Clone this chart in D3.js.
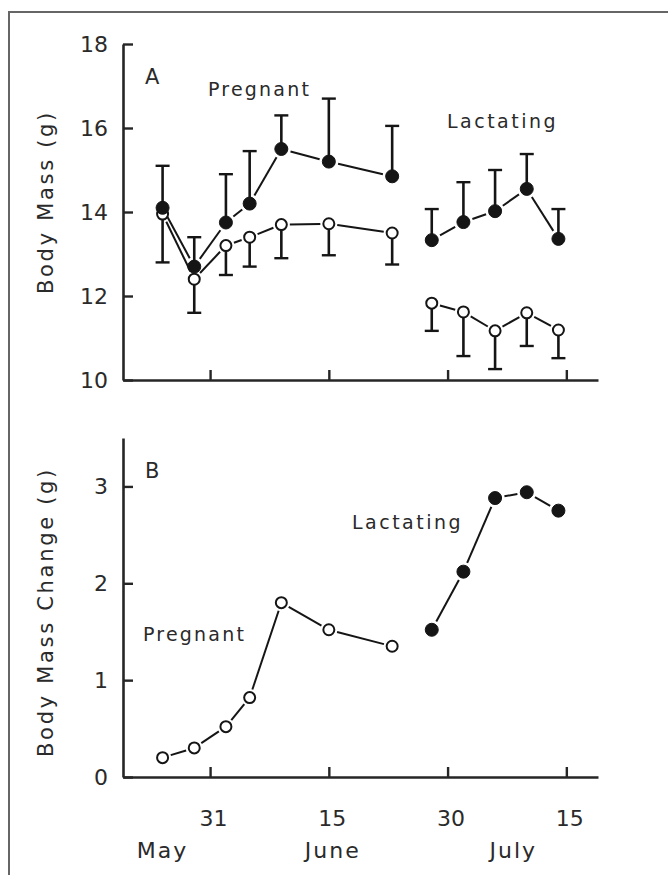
<!DOCTYPE html>
<html>
<head>
<meta charset="utf-8">
<script src="https://cdn.jsdelivr.net/npm/d3@7"></script>
<style>
  html, body { margin: 0; padding: 0; background: #fff; }
  svg { display: block; }
  text { font-family: "DejaVu Sans", sans-serif; fill: #2a2a2a; }
</style>
</head>
<body>
<svg id="chart" width="668" height="875"></svg>
<script>
// Sampling dates (day of year counted from 1 May = day 1)
const pregDays = [25, 29, 33, 36, 40, 46, 54];
const lactDays = [59, 63, 67, 71, 75];

// Panel A: body mass (g), reproductive females (filled) with upper SE
const pregMass    = [14.1, 12.7, 13.75, 14.2, 15.5, 15.2, 14.85];
const pregMassSE  = [1.0, 0.7, 1.15, 1.25, 0.8, 1.5, 1.2];
const lactMass    = [13.33, 13.76, 14.02, 14.55, 13.36];
const lactMassSE  = [0.74, 0.95, 0.98, 0.83, 0.71];

// Panel A: body mass (g), non-reproductive females (open) with lower SE
const pregCtrl    = [13.95, 12.4, 13.2, 13.4, 13.7, 13.72, 13.5];
const pregCtrlSE  = [1.15, 0.8, 0.7, 0.7, 0.8, 0.75, 0.75];
const lactCtrl    = [11.83, 11.62, 11.17, 11.6, 11.19];
const lactCtrlSE  = [0.66, 1.05, 0.91, 0.79, 0.67];

// Panel B: body mass change (g)
const pregChange  = [0.2, 0.3, 0.52, 0.82, 1.8, 1.52, 1.35];
const lactChange  = [1.52, 2.12, 2.88, 2.94, 2.75];

// Axis ticks
const massTicks   = [10, 12, 14, 16, 18];
const changeTicks = [0, 1, 2, 3];
const dateTicks   = [31, 46, 61, 76];
const dateLabels  = ["31", "15", "30", "15"];
const months      = ["May", "June", "July"];
const monthDays   = [25, 46.5, 69.3];

const svg = d3.select("#chart");
const ink = "#151515";
const axisInk = "#262626";

// page frame
svg.append("path")
  .attr("d", "M9,875 L9,12 L668,12")
  .attr("fill", "none").attr("stroke", "#666").attr("stroke-width", 2);

const x = d3.scaleLinear().domain([20, 80]).range([123, 598]);
const yA = d3.scaleLinear().domain([10, 18]).range([380, 44]);
const yB = d3.scaleLinear().domain([0, 3.5]).range([777, 438]);

function styleAxis(g) {
  g.selectAll("path.domain").attr("stroke", axisInk).attr("stroke-width", 2.6);
  g.selectAll(".tick line").attr("stroke", axisInk).attr("stroke-width", 2.4);
  g.selectAll(".tick text")
    .attr("font-family", "DejaVu Sans, sans-serif")
    .attr("font-size", 22).attr("fill", "#2a2a2a");
}

// ---- axes ----
function drawAxes(y, ticks, title, titleY, showDates) {
  const gy = svg.append("g").attr("transform", `translate(${x.range()[0]},0)`)
    .call(d3.axisLeft(y).tickValues(ticks).tickFormat(d3.format("d"))
      .tickSizeInner(-10).tickSizeOuter(0).tickPadding(15));
  styleAxis(gy);
  gy.selectAll(".tick text").attr("dy", "0.32em");

  const gx = svg.append("g").attr("transform", `translate(0,${y.range()[0]})`)
    .call(d3.axisBottom(x).tickValues(dateTicks)
      .tickFormat((d, i) => showDates ? dateLabels[i] : "")
      .tickSizeInner(-10).tickSizeOuter(0).tickPadding(33));
  styleAxis(gx);
  gx.selectAll(".tick text").attr("dx", 3);

  svg.append("text")
    .attr("transform", `translate(53,${titleY}) rotate(-90)`)
    .attr("text-anchor", "middle")
    .attr("font-size", 21).attr("letter-spacing", 2.7)
    .text(title);
}

drawAxes(yA, massTicks, "Body Mass (g)", 202, false);
drawAxes(yB, changeTicks, "Body Mass Change (g)", 612, true);

svg.selectAll("text.month").data(months).enter().append("text")
  .attr("class", "month")
  .attr("x", (d, i) => x(monthDays[i]))
  .attr("y", 858)
  .attr("text-anchor", "middle")
  .attr("font-size", 22).attr("letter-spacing", 2)
  .text(d => d);

// ---- marks ----
// connecting line broken short of each marker
function connect(days, vals, y, r) {
  const pts = days.map((d, i) => [x(d), y(vals[i])]);
  const segs = d3.pairs(pts).map(([a, b]) => {
    const dx = b[0] - a[0], dy = b[1] - a[1];
    const len = Math.hypot(dx, dy), g = r + 3;
    if (len <= 2 * g) return null;
    const ux = dx / len, uy = dy / len;
    return [a[0] + ux * g, a[1] + uy * g, b[0] - ux * g, b[1] - uy * g];
  }).filter(Boolean);
  svg.append("g").selectAll("line").data(segs).enter().append("line")
    .attr("x1", s => s[0]).attr("y1", s => s[1])
    .attr("x2", s => s[2]).attr("y2", s => s[3])
    .attr("stroke", ink).attr("stroke-width", 2);
}

function errorBars(days, vals, se, y, dir) {
  const g = svg.append("g");
  days.forEach((d, i) => {
    const cx = x(d), y0 = y(vals[i]), y1 = y(vals[i] + dir * se[i]);
    g.append("line").attr("x1", cx).attr("x2", cx).attr("y1", y0).attr("y2", y1)
      .attr("stroke", ink).attr("stroke-width", 2.6);
    g.append("line").attr("x1", cx - 7).attr("x2", cx + 7).attr("y1", y1).attr("y2", y1)
      .attr("stroke", ink).attr("stroke-width", 2.4);
  });
}

function markers(days, vals, y, filled, r) {
  svg.append("g").selectAll("circle").data(days).enter().append("circle")
    .attr("cx", d => x(d))
    .attr("cy", (d, i) => y(vals[i]))
    .attr("r", r)
    .attr("fill", filled ? ink : "#fff")
    .attr("stroke", ink)
    .attr("stroke-width", filled ? 1 : 2);
}

// Panel A
errorBars(pregDays, pregMass, pregMassSE, yA, 1);
errorBars(lactDays, lactMass, lactMassSE, yA, 1);
errorBars(pregDays, pregCtrl, pregCtrlSE, yA, -1);
errorBars(lactDays, lactCtrl, lactCtrlSE, yA, -1);
connect(pregDays, pregMass, yA, 6.5);
connect(lactDays, lactMass, yA, 6.5);
connect(pregDays, pregCtrl, yA, 5.5);
connect(lactDays, lactCtrl, yA, 5.5);
markers(pregDays, pregCtrl, yA, false, 5.5);
markers(lactDays, lactCtrl, yA, false, 5.5);
markers(pregDays, pregMass, yA, true, 6.5);
markers(lactDays, lactMass, yA, true, 6.5);

// Panel B
connect(pregDays, pregChange, yB, 5.5);
connect(lactDays, lactChange, yB, 6.5);
markers(pregDays, pregChange, yB, false, 5.5);
markers(lactDays, lactChange, yB, true, 6.5);

// ---- annotations ----
const notes = [
  { t: "A", x: 145, y: 84, s: 21, ls: 0 },
  { t: "Pregnant", x: 208, y: 96, s: 19, ls: 2.2 },
  { t: "Lactating", x: 447, y: 128, s: 19, ls: 2.5 },
  { t: "B", x: 145, y: 478, s: 21, ls: 0 },
  { t: "Pregnant", x: 143, y: 641, s: 19, ls: 2.2 },
  { t: "Lactating", x: 352, y: 529, s: 19, ls: 2.5 }
];
svg.selectAll("text.note").data(notes).enter().append("text")
  .attr("class", "note")
  .attr("x", d => d.x).attr("y", d => d.y)
  .attr("font-size", d => d.s).attr("letter-spacing", d => d.ls)
  .text(d => d.t);
</script>
</body>
</html>
